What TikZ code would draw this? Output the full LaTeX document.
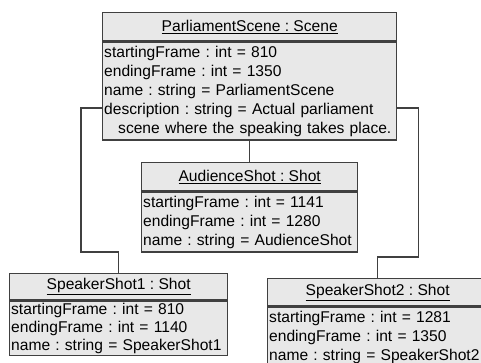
\documentclass[tikz,border=0pt]{standalone}
\usepackage{fontspec}
\setmainfont{Liberation Sans}
\usepackage{xcolor}
\usetikzlibrary{positioning}
\definecolor{boxfill}{RGB}{232,232,232}
\definecolor{boxline}{RGB}{64,64,64}
\frenchspacing

\begin{document}
\begin{tikzpicture}[x=1pt, y=-1pt,
				font=\fontsize{15.6}{19}\selectfont,
				head/.style={draw=boxline, fill=boxfill, line width=1.4pt, anchor=north west, inner sep=0pt, align=center},
				body/.style={draw=boxline, fill=boxfill, line width=1.4pt, inner xsep=1.5pt, inner ysep=2pt, align=left},
				link/.style={draw=boxline, line width=1.4pt}]
				\clip (0,0) rectangle (481,363);
				\fill[white] (0,0) rectangle (481,363);
				% scene object
				\node at (102,12) (scene) [head, minimum width=294pt, minimum height=28pt] {\underline{ParliamentScene : Scene}};
				\node (scenebody) [body, below=0pt of scene, minimum width=294pt, text width=291pt, minimum height=98pt] {startingFrame : int = 810\\endingFrame : int = 1350\\name : string = ParliamentScene\\description : string = Actual parliament\\\hspace*{14pt}scene where the speaking takes place.};
				% shot objects
				\node at (141,162) (audience) [head, minimum width=216pt, minimum height=28pt] {\underline{AudienceShot : Shot}};
				\node (audiencebody) [body, below=0pt of audience, minimum width=216pt, text width=213pt, minimum height=60pt] {startingFrame : int = 1141\\endingFrame : int = 1280\\name : string = AudienceShot};
				\node at (9,273) (shot1) [head, minimum width=218pt, minimum height=26pt] {\underline{SpeakerShot1 : Shot}};
				\node (shot1body) [body, below=0pt of shot1, minimum width=218pt, text width=215pt, minimum height=53pt, font=\fontsize{15.6}{18}\selectfont] {startingFrame : int = 810\\endingFrame : int = 1140\\name : string = SpeakerShot1};
				\node at (267,278) (shot2) [head, minimum width=220pt, minimum height=27pt] {\underline{SpeakerShot2 : Shot}};
				\node (shot2body) [body, below=0pt of shot2, minimum width=220pt, text width=217pt, minimum height=60pt] {startingFrame : int = 1281\\endingFrame : int = 1350\\name : string = SpeakerShot2};
				% links
				\draw[link] ([yshift=-17pt]scenebody.west) -- ++(-21,0) |- ([yshift=21pt]shot1.north) -- (shot1.north);
				\draw[link] ([yshift=-17pt]scenebody.east) -- ++(21,0) |- ([yshift=21pt]shot2.north) -- (shot2.north);
				\draw[link] (scenebody.south) -- (audience.north);
			\end{tikzpicture}
\end{document}
